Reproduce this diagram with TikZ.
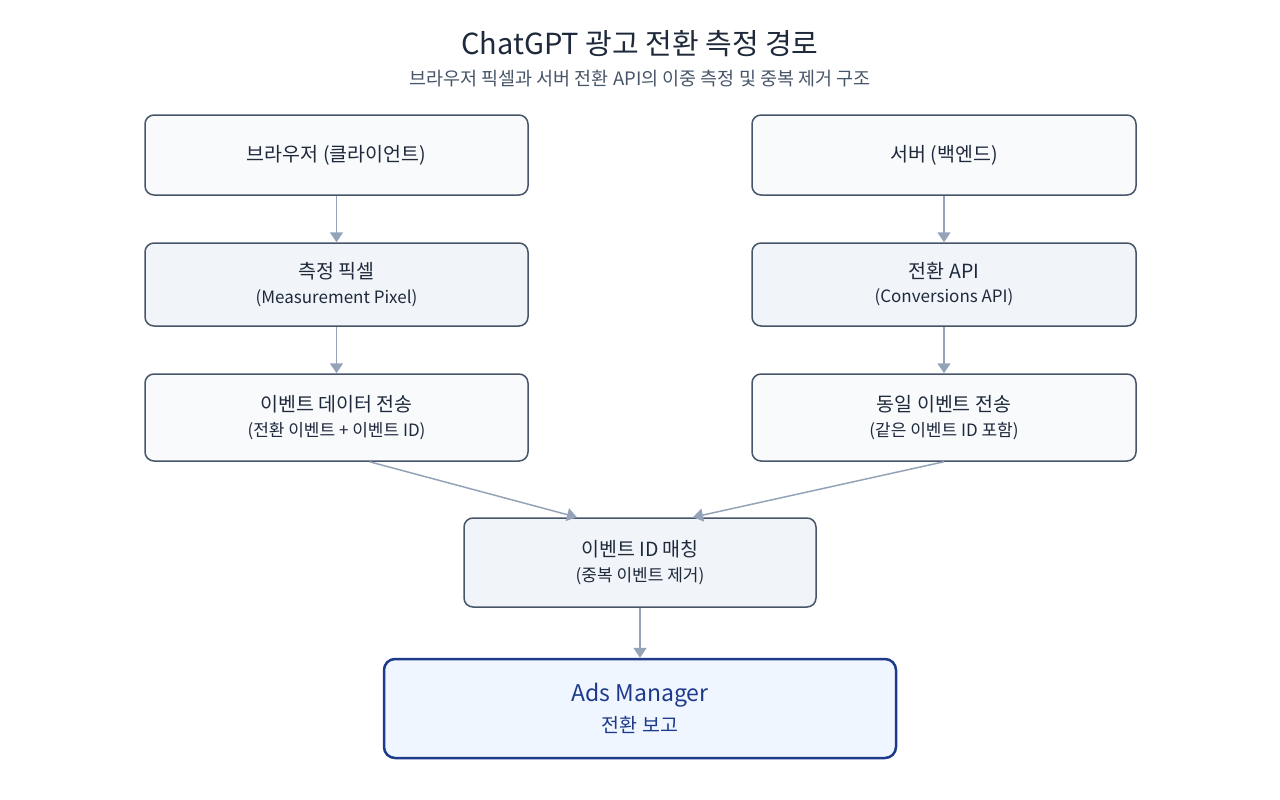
\documentclass[tikz,border=0pt]{standalone}
\usepackage{fontspec}
\setmainfont{Noto Sans CJK KR}
\usetikzlibrary{calc,arrows.meta}
\definecolor{bord}{HTML}{475569}
\definecolor{txt}{HTML}{1E293B}
\definecolor{sub}{HTML}{475569}
\definecolor{arr}{HTML}{94A3B8}
\definecolor{fa}{HTML}{F8FAFC}
\definecolor{fb}{HTML}{F1F5F9}
\definecolor{adsb}{HTML}{1E3A8A}
\definecolor{adsf}{HTML}{EFF6FF}
\begin{document}
\begin{tikzpicture}[x=1pt,y=-1pt,
 box/.style={draw=bord,line width=1.5pt,rounded corners=9pt,fill=fb,text=txt,align=center,inner sep=0pt},
 con/.style={draw=arr,line width=1.5pt,-{Triangle[length=10pt,width=13pt]}}]
\useasboundingbox (0,0) rectangle (1280,800);
\node[font=\fontsize{29}{34}\selectfont,text=txt] (title) at (640,44) {ChatGPT 광고 전환 측정 경로};
\node[font=\fontsize{18.5}{22}\selectfont,text=sub] (subtitle) at (640,79) {브라우저 픽셀과 서버 전환 API의 이중 측정 및 중복 제거 구조};

\node[box,fill=fa,minimum width=383pt,minimum height=80pt] (br) at (336.5,155) {\fontsize{19.5}{22}\selectfont 브라우저 (클라이언트)};
\node[box,fill=fa,minimum width=384pt,minimum height=80pt] (sv) at (944,155) {\fontsize{19.5}{22}\selectfont 서버 (백엔드)};
\node[box,minimum width=383pt,minimum height=83pt] (px) at (336.5,284.5) {\fontsize{19.5}{22}\selectfont 측정 픽셀\\[8pt]\fontsize{17}{20}\selectfont (Measurement Pixel)};
\node[box,minimum width=384pt,minimum height=83pt] (capi) at (944,284.5) {\fontsize{19.5}{22}\selectfont 전환 API\\[8pt]\fontsize{17}{20}\selectfont (Conversions API)};
\node[box,fill=fa,minimum width=383pt,minimum height=87pt] (ev) at (336.5,417.5) {\fontsize{19.5}{22}\selectfont 이벤트 데이터 전송\\[8pt]\fontsize{17}{20}\selectfont (전환 이벤트 + 이벤트 ID)};
\node[box,fill=fa,minimum width=384pt,minimum height=87pt] (se) at (944,417.5) {\fontsize{19.5}{22}\selectfont 동일 이벤트 전송\\[8pt]\fontsize{17}{20}\selectfont (같은 이벤트 ID 포함)};
\node[box,minimum width=352pt,minimum height=89pt] (m) at (640,562.5) {\fontsize{19.5}{22}\selectfont 이벤트 ID 매칭\\[8pt]\fontsize{17}{20}\selectfont (중복 이벤트 제거)};
\node[box,draw=adsb,fill=adsf,text=adsb,line width=2.5pt,rounded corners=11pt,minimum width=512pt,minimum height=99pt] (ads) at (640,708.5) {\fontsize{23}{26}\selectfont Ads Manager\\[8pt]\fontsize{19.5}{22}\selectfont 전환 보고};

\draw[con] (br.south) -- (px.north);
\draw[con] (sv.south) -- (capi.north);
\draw[con] (px.south) -- (ev.north);
\draw[con] (capi.south) -- (se.north);
\draw[con] ($(ev.south)+(33,0)$) -- ($(m.north)+(-63,0)$);
\draw[con] (se.south) -- ($(m.north)+(53,0)$);
\draw[con] (m.south) -- (ads.north);
\end{tikzpicture}
\end{document}
